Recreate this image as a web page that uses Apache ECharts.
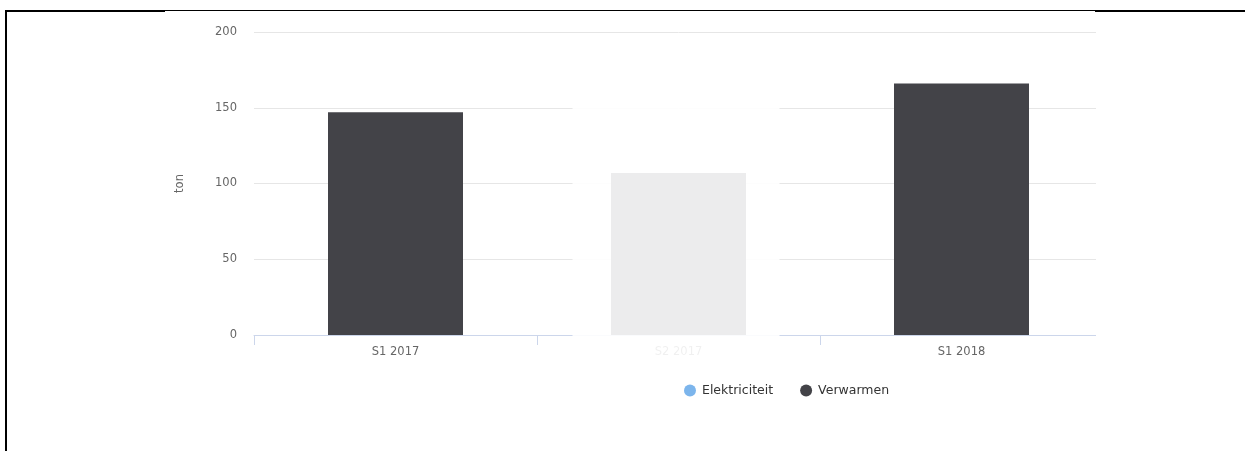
<!DOCTYPE html>
<html>
<head>
<meta charset="utf-8">
<style>
  html, body { margin: 0; padding: 0; background: #ffffff; }
  #chart { width: 1245px; height: 451px; }
</style>
<script src="https://cdn.jsdelivr.net/npm/echarts@6/dist/echarts.min.js"></script>
</head>
<body>
<div id="chart"></div>
<script>
// Half-year CO2 emissions (ton) per source
const categories = ['S1 2017', 'S2 2017', 'S1 2018'];
const elektriciteit = [0, 0, 0];
const verwarmen = [147, 107, 166];
const yTicks = { min: 0, max: 200, interval: 50 };
const dimmedCategory = 'S2 2017';

const FONT = '"DejaVu Sans", "Noto Sans", sans-serif';
const chart = echarts.init(document.getElementById('chart'), null, { renderer: 'canvas' });

chart.setOption({
  animation: false,
  backgroundColor: '#ffffff',
  grid: { left: 254, right: 142, top: 32, bottom: 116, containLabel: false },
  legend: {
    left: 679,
    top: 379,
    icon: 'circle',
    itemWidth: 12,
    itemHeight: 12,
    itemGap: 27,
    textStyle: { fontFamily: FONT, fontSize: 12.5, color: '#333333', padding: [0, 0, 0, 1] },
    data: ['Elektriciteit', 'Verwarmen']
  },
  xAxis: {
    type: 'category',
    data: categories,
    axisLine: { lineStyle: { color: '#ccd6eb', width: 1 } },
    axisTick: { show: true, length: 10, lineStyle: { color: '#ccd6eb' } },
    axisLabel: { fontFamily: FONT, fontSize: 11.5, color: '#666666', margin: 11 }
  },
  yAxis: {
    type: 'value',
    min: yTicks.min,
    max: yTicks.max,
    interval: yTicks.interval,
    name: 'ton',
    nameLocation: 'middle',
    nameGap: 68,
    nameTextStyle: { fontFamily: FONT, fontSize: 11.5, color: '#666666' },
    axisLine: { show: false },
    axisTick: { show: false },
    axisLabel: { fontFamily: FONT, fontSize: 11.5, color: '#666666', margin: 17 },
    splitLine: { lineStyle: { color: '#e6e6e6', width: 1 } }
  },
  series: [
    {
      name: 'Elektriciteit',
      type: 'bar',
      stack: 'total',
      data: elektriciteit,
      barWidth: 135,
      itemStyle: { color: '#7cb5ec' }
    },
    {
      name: 'Verwarmen',
      type: 'bar',
      stack: 'total',
      data: verwarmen,
      barWidth: 135,
      itemStyle: { color: '#434348' }
    }
  ]
});

// Dimming veil over the inactive half-year, page clip on the right, and frame lines
const cx = chart.convertToPixel({ xAxisIndex: 0 }, dimmedCategory);
chart.setOption({
  graphic: [
    {
      type: 'rect', z: 100,
      shape: { x: cx - 106, y: 45, width: 207, height: 325 },
      style: { fill: 'rgba(255,255,255,0.9)' }
    },
    {
      type: 'rect', z: 100,
      shape: { x: 1096, y: 12, width: 149, height: 439 },
      style: { fill: '#ffffff' }
    },
    {
      type: 'rect', z: 110,
      shape: { x: 5, y: 10, width: 2, height: 441 },
      style: { fill: '#000000' }
    },
    {
      type: 'rect', z: 110,
      shape: { x: 5, y: 10, width: 160, height: 2 },
      style: { fill: '#000000' }
    },
    {
      type: 'rect', z: 110,
      shape: { x: 165, y: 10, width: 930, height: 1 },
      style: { fill: '#000000' }
    },
    {
      type: 'rect', z: 110,
      shape: { x: 1095, y: 10, width: 150, height: 2 },
      style: { fill: '#000000' }
    }
  ]
});
</script>
</body>
</html>
